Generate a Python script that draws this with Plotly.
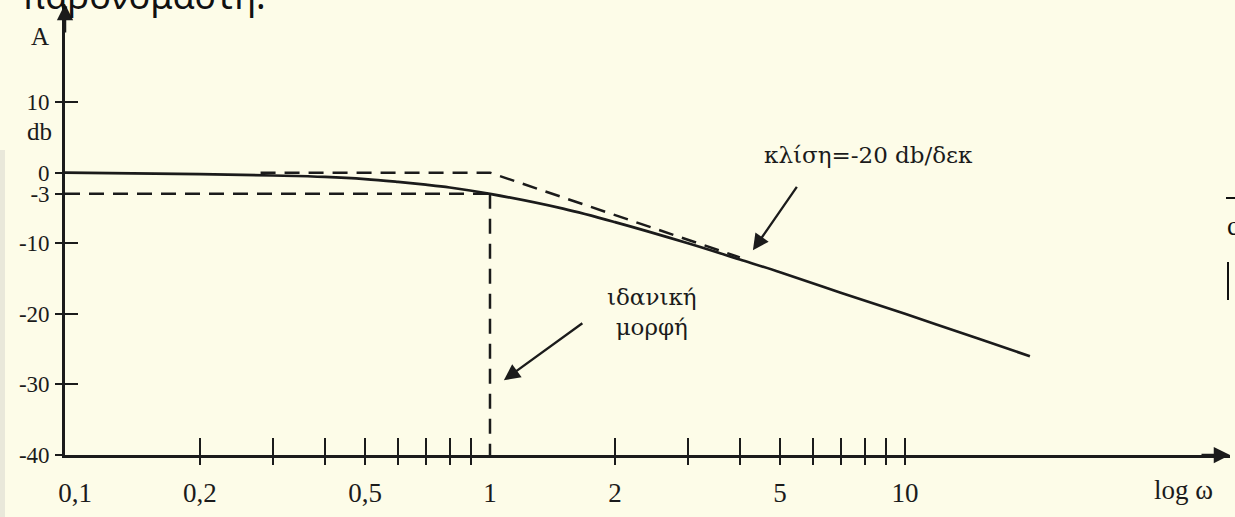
import math
import plotly.graph_objects as go

# Magnitude response of a first-order low-pass stage (corner at ω = 1)
omega = [0.0946, 0.2, 0.3, 0.4, 0.5, 0.6, 0.7, 0.8, 1.0, 1.5, 2.0, 3.0, 4.0, 5.0, 7.0, 10.0, 15.0, 20.0]
gain_db = [0.0, -0.2, -0.4, -0.6, -0.9, -1.3, -1.7, -2.1, -3.0, -5.1, -7.0, -10.0, -12.3, -14.1, -17.0, -20.0, -23.5, -26.0]

# Straight-line (ideal) approximation
ideal_omega = [0.28, 1.0, 4.0]
ideal_db = [0.0, 0.0, -12.0]

# -3 dB guide lines
cut_h_omega = [0.0946, 1.0]
cut_h_db = [-3.0, -3.0]
cut_v_omega = [1.0, 1.0]
cut_v_db = [-3.0, -40.0]

# Axis ticks
y_tick_vals = [10, 0, -3, -10, -20, -30, -40]
y_tick_text = ["10", "0", "-3", "-10", "-20", "-30", "-40"]
x_label_vals = [0.1, 0.2, 0.5, 1, 2, 5, 10]
x_label_text = ["0,1", "0,2", "0,5", "1", "2", "5", "10"]
x_mark_vals = [0.2, 0.3, 0.4, 0.5, 0.6, 0.7, 0.8, 0.9, 2, 3, 4, 5, 6, 7, 8, 9, 10]

OMEGA_MIN, OMEGA_MAX = 0.0946, 60.7
DB_MIN, DB_MAX = -40.0, 23.9

INK = "#1b1b1b"
BG = "#fdfce8"
SERIF = "Liberation Serif"
GREEK = "DejaVu Serif"

W, H = 1235, 517
ML, MR, MT, MB = 65, 5, 4, 62
PW, PH = W - ML - MR, H - MT - MB


def px_x(px):
    return (px - ML) / PW


def px_y(py):
    return (H - MB - py) / PH


fig = go.Figure()

fig.add_trace(go.Scatter(x=cut_h_omega, y=cut_h_db, mode="lines",
                         line=dict(color=INK, width=2.5, dash="15px,9px"),
                         hoverinfo="skip", showlegend=False))
fig.add_trace(go.Scatter(x=cut_v_omega, y=cut_v_db, mode="lines",
                         line=dict(color=INK, width=2.5, dash="15px,10px"),
                         hoverinfo="skip", showlegend=False))
fig.add_trace(go.Scatter(x=ideal_omega, y=ideal_db, mode="lines",
                         line=dict(color=INK, width=2.5, dash="15px,9px"),
                         hoverinfo="skip", showlegend=False))
fig.add_trace(go.Scatter(x=omega, y=gain_db, mode="lines", line_shape="spline",
                         line=dict(color=INK, width=2.7),
                         hoverinfo="skip", showlegend=False))

x_range = [math.log10(OMEGA_MIN), math.log10(OMEGA_MAX)]

fig.update_layout(
    width=W, height=H,
    margin=dict(l=ML, r=MR, t=MT, b=MB),
    paper_bgcolor=BG, plot_bgcolor=BG,
    showlegend=False,
    xaxis=dict(type="log", range=x_range, showgrid=False, zeroline=False,
               showline=True, linecolor=INK, linewidth=2.7,
               tickmode="array", tickvals=x_label_vals, ticktext=x_label_text,
               ticks="", tickfont=dict(family=SERIF, size=27, color=INK),
               ticklabelstandoff=12),
    xaxis2=dict(type="log", range=x_range, overlaying="x", matches="x", anchor="y",
                side="bottom", showgrid=False, zeroline=False, showline=False,
                tickmode="array", tickvals=x_mark_vals, ticks="outside",
                ticklen=9, tickwidth=2.2, tickcolor=INK, showticklabels=False),
    xaxis3=dict(type="log", range=x_range, overlaying="x", matches="x", anchor="y",
                side="bottom", showgrid=False, zeroline=False, showline=False,
                tickmode="array", tickvals=x_mark_vals, ticks="inside",
                ticklen=17, tickwidth=2.2, tickcolor=INK, showticklabels=False),
    yaxis=dict(range=[DB_MIN, DB_MAX], showgrid=False, zeroline=False,
               showline=True, linecolor=INK, linewidth=2.7,
               tickmode="array", tickvals=y_tick_vals, ticktext=y_tick_text,
               ticks="outside", ticklen=7, tickwidth=2.2, tickcolor=INK,
               tickfont=dict(family=SERIF, size=23, color=INK), ticklabelstandoff=1),
    yaxis2=dict(range=[DB_MIN, DB_MAX], overlaying="y", matches="y", anchor="x",
                side="left", showgrid=False, zeroline=False, showline=False,
                tickmode="array", tickvals=y_tick_vals, ticks="inside",
                ticklen=13, tickwidth=2.2, tickcolor=INK, showticklabels=False),
)

# keep the overlay axes alive
fig.add_trace(go.Scatter(x=[], y=[], xaxis="x2", yaxis="y", showlegend=False))
fig.add_trace(go.Scatter(x=[], y=[], xaxis="x3", yaxis="y2", showlegend=False))

ann = []
# axis arrowheads
ann.append(dict(xref="x domain", yref="y domain", x=0, y=1.0, ax=0, ay=30,
                text="", showarrow=True, arrowhead=2, arrowsize=1.3,
                arrowwidth=2.5, arrowcolor=INK))
ann.append(dict(xref="x domain", yref="y domain", x=1.0, y=0, ax=-30, ay=0,
                text="", showarrow=True, arrowhead=2, arrowsize=1.3,
                arrowwidth=2.5, arrowcolor=INK))

# axis names
ann.append(dict(xref="paper", yref="paper", x=px_x(40), y=px_y(37), text="A",
                xanchor="center", yanchor="middle", showarrow=False,
                font=dict(family=SERIF, size=25, color=INK)))
ann.append(dict(xref="paper", yref="paper", x=px_x(39), y=px_y(131), text="db",
                xanchor="center", yanchor="middle", showarrow=False,
                font=dict(family=SERIF, size=25, color=INK)))
ann.append(dict(xref="paper", yref="paper", x=px_x(1183), y=px_y(490), text="log ω",
                xanchor="center", yanchor="middle", showarrow=False,
                font=dict(family=SERIF, size=27, color=INK)))

# slope callout
ann.append(dict(xref="x", yref="y", x=math.log10(4.3), y=-11.0, ax=45, ay=-65,
                text="", showarrow=True, arrowhead=2, arrowsize=1.4,
                arrowwidth=2.3, arrowcolor=INK))
ann.append(dict(xref="x", yref="y", x=math.log10(8.15), y=2.5,
                xanchor="center", yanchor="middle",
                text="κλίση=-20 db/δεκ", showarrow=False,
                font=dict(family=GREEK, size=23, color=INK)))

# ideal-form callout
ann.append(dict(xref="x", yref="y", x=math.log10(1.08), y=-29.4, ax=80, ay=-58,
                text="", showarrow=True, arrowhead=2, arrowsize=1.4,
                arrowwidth=2.3, arrowcolor=INK))
ann.append(dict(xref="x", yref="y", x=math.log10(2.46), y=-19.7,
                xanchor="center", yanchor="middle",
                text="ιδανική<br>μορφή", showarrow=False,
                font=dict(family=GREEK, size=23, color=INK)))

# running text from the surrounding page
ann.append(dict(xref="paper", yref="paper", x=px_x(20), y=px_y(22),
                xanchor="left", yanchor="bottom", text="παρονομαστή:",
                showarrow=False, font=dict(family="Noto Sans", size=36, color="#111111")))
ann.append(dict(xref="paper", yref="paper", x=px_x(1225), y=px_y(226),
                xanchor="left", yanchor="middle", text="c", showarrow=False,
                font=dict(family=SERIF, size=27, color="#111111")))

fig.update_layout(annotations=ann)

shapes = [
    dict(type="rect", xref="paper", yref="paper", x0=px_x(0), x1=px_x(5),
         y0=px_y(517), y1=px_y(150), fillcolor="#e9e8da", line=dict(width=0),
         layer="below"),
    dict(type="line", xref="paper", yref="paper", x0=px_x(1226), x1=px_x(1236),
         y0=px_y(198), y1=px_y(198), line=dict(color="#111111", width=2)),
    dict(type="line", xref="paper", yref="paper", x0=px_x(1228), x1=px_x(1228),
         y0=px_y(262), y1=px_y(300), line=dict(color="#111111", width=2)),
]
fig.update_layout(shapes=shapes)

fig.write_html("out.html")
